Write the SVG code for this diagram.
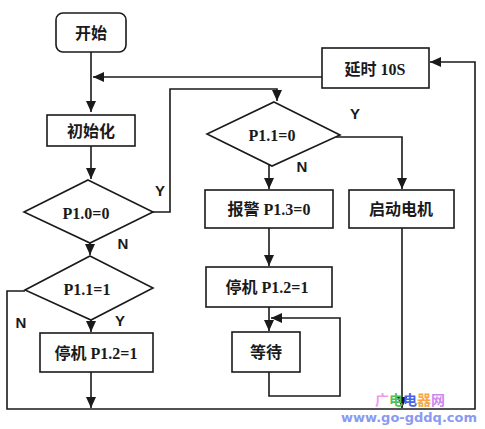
<svg xmlns="http://www.w3.org/2000/svg" width="485" height="429" viewBox="0 0 485 429">
<defs>
<marker id="ah" markerUnits="userSpaceOnUse" markerWidth="12" markerHeight="10" refX="11" refY="5" orient="auto">
<path d="M0,0 L11,5 L0,10 Z" fill="#1a1a1a"/>
</marker>
</defs>
<style>
.s{fill:#fff;stroke:#1a1a1a;stroke-width:1.6}
.l{fill:none;stroke:#1a1a1a;stroke-width:1.6}
.t{font-family:"Liberation Serif","Noto Sans CJK SC",serif;font-size:16px;font-weight:bold;fill:#1a1a1a;text-anchor:middle;dominant-baseline:central}
.lab{font-family:"Liberation Sans","Noto Sans CJK SC",sans-serif;font-size:15px;font-weight:bold;fill:#1a1a1a;text-anchor:middle;dominant-baseline:central}
</style>
<rect width="485" height="429" fill="#fff"/>
<g id="connectors">
<path class="l" d="M91,52 V112" marker-end="url(#ah)"/>
<path class="l" d="M322,77 H93" marker-end="url(#ah)"/>
<path class="l" d="M91,146 V179" marker-end="url(#ah)"/>
<path class="l" d="M153,212 H170 V89 H277 V101" marker-end="url(#ah)"/>
<path class="l" d="M90,243 V255" marker-end="url(#ah)"/>
<path class="l" d="M25,291 H7 V409 H475 V62 H430" marker-end="url(#ah)"/>
<path class="l" d="M91,320 V332" marker-end="url(#ah)"/>
<path class="l" d="M91,372 V408" marker-end="url(#ah)"/>
<path class="l" d="M269,164 V189" marker-end="url(#ah)"/>
<path class="l" d="M336,137 H402 V189" marker-end="url(#ah)"/>
<path class="l" d="M269,228 V266" marker-end="url(#ah)"/>
<path class="l" d="M269,307 V331" marker-end="url(#ah)"/>
<path class="l" d="M269,372 V396 H340 V318 H271" marker-end="url(#ah)"/>
<path class="l" d="M402,228 V408" marker-end="url(#ah)"/>
<text class="lab" x="160" y="190">Y</text>
<text class="lab" x="123" y="243">N</text>
<text class="lab" x="21" y="322">N</text>
<text class="lab" x="120" y="320">Y</text>
<text class="lab" x="355" y="113">Y</text>
<text class="lab" x="302" y="166">N</text>
</g>
<g id="start"><rect class="s" x="56" y="13" width="70" height="39" rx="7"/><text class="t" x="91" y="33">开始</text></g>
<g id="init"><rect class="s" x="47" y="115" width="88" height="31"/><text class="t" x="91" y="131">初始化</text></g>
<g id="d1"><path class="s" d="M88,180 L153,212 L90,243 L24,212 Z"/><text class="t" x="86" y="213">P1.0=0</text></g>
<g id="d2"><path class="s" d="M90,256 L153,288 L91,320 L25,290 Z"/><text class="t" x="87" y="289">P1.1=1</text></g>
<g id="stop1"><rect class="s" x="40" y="333" width="113" height="39"/><text class="t" x="96" y="353">停机 P1.2=1</text></g>
<g id="delay"><rect class="s" x="322" y="48" width="107" height="40"/><text class="t" x="375" y="69">延时 10S</text></g>
<g id="d3"><path class="s" d="M274,102 L340,135 L272,166 L207,134 Z"/><text class="t" x="272" y="135">P1.1=0</text></g>
<g id="alarm"><rect class="s" x="205" y="190" width="128" height="38"/><text class="t" x="269" y="209">报警 P1.3=0</text></g>
<g id="motor"><rect class="s" x="349" y="190" width="105" height="38"/><text class="t" x="401" y="209">启动电机</text></g>
<g id="stop2"><rect class="s" x="206" y="267" width="126" height="40"/><text class="t" x="267" y="287">停机 P1.2=1</text></g>
<g id="wait"><rect class="s" x="232" y="332" width="68" height="40"/><text class="t" x="266" y="352">等待</text></g>
<g id="watermark" font-family="'Noto Sans CJK SC',sans-serif" font-weight="bold">
<text x="375" y="405" font-size="14"><tspan fill="#f29af0">广</tspan><tspan fill="#4cc25a">电</tspan><tspan fill="#4a64e8">电</tspan><tspan fill="#f7a64a">器</tspan><tspan fill="#c98af0">网</tspan></text>
<text x="341" y="422" font-size="13" fill="#8a9af0" font-family="'DejaVu Sans',sans-serif" textLength="136" lengthAdjust="spacingAndGlyphs">www.go-gddq.com</text>
</g>
</svg>
